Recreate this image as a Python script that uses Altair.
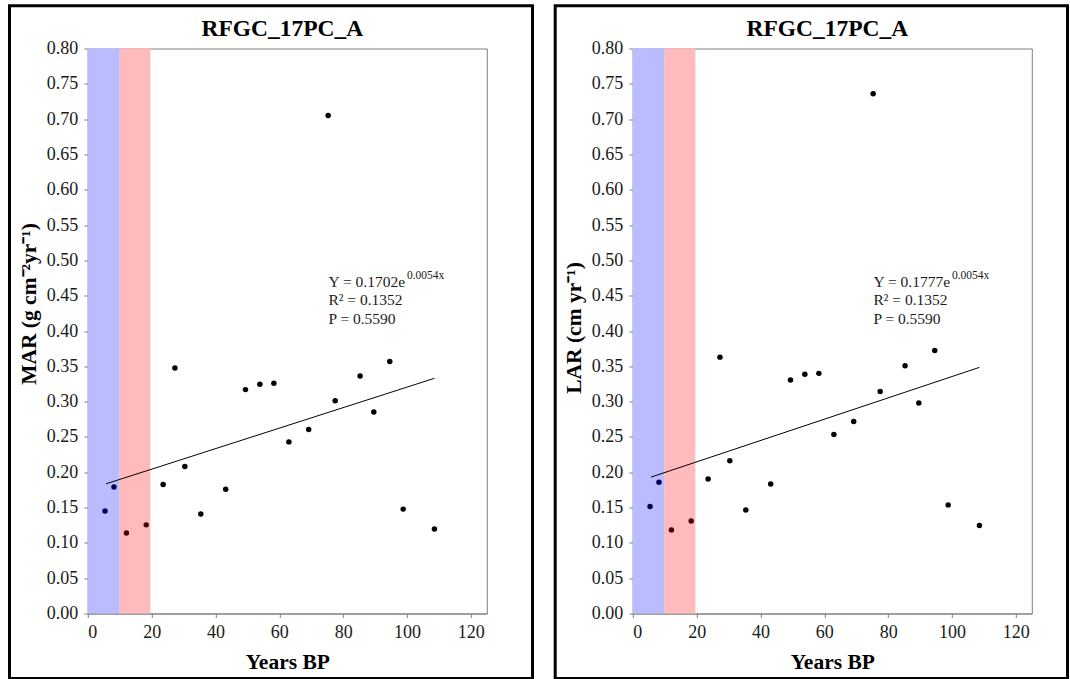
import altair as alt
import pandas as pd

# ---------------- data ----------------
years = [5.4, 8.2, 12.1, 18.3, 23.6, 27.3, 30.4, 35.4, 43.2, 49.4, 53.9,
         58.3, 63.0, 69.2, 75.3, 77.5, 85.3, 89.6, 94.6, 98.8, 108.6]
mar = [0.145, 0.179, 0.114, 0.1255, 0.1826, 0.3475, 0.208, 0.141, 0.176, 0.317, 0.3246,
       0.326, 0.243, 0.2604, 0.705, 0.3012, 0.3363, 0.2852, 0.3569, 0.1478, 0.1197]
lar = [0.1514, 0.186, 0.1184, 0.1311, 0.1906, 0.363, 0.2164, 0.1467, 0.1835, 0.3307, 0.3386,
       0.340, 0.2534, 0.2717, 0.736, 0.3143, 0.3508, 0.2979, 0.3724, 0.1538, 0.1245]
period = ["blue", "blue", "red", "red"] + ["none"] * 17

band_start = [0, 10]
band_end = [10, 19.6]
band_color = ["#bbbbff", "#ffbbbb"]

fit_x = [5.7, 108.6]
fit_mar = [0.1836, 0.333]
fit_lar = [0.1931, 0.3485]

x_ticks = [0, 20, 40, 60, 80, 100, 120]
y_ticks = [0.00, 0.05, 0.10, 0.15, 0.20, 0.25, 0.30, 0.35, 0.40,
           0.45, 0.50, 0.55, 0.60, 0.65, 0.70, 0.75, 0.80]

title_text = "RFGC_17PC_A"
mar_title = "MAR (g cm\u207b\u00b2yr\u207b\u00b9)"
lar_title = "LAR (cm yr\u207b\u00b9)"
mar_eq = ["Y = 0.1702e", "R\u00b2 = 0.1352", "P = 0.5590"]
lar_eq = ["Y = 0.1777e", "R\u00b2 = 0.1352", "P = 0.5590"]
eq_sup = "0.0054x"

# ---------------- layout ----------------
W, H = 399, 565
FONT = "Liberation Serif"
GRAY = "#808080"

xscale = alt.Scale(domain=[0, 125], nice=False, zero=False)
yscale = alt.Scale(domain=[0, 0.8], nice=False)
xaxis = alt.Axis(values=x_ticks, title="Years BP", titleY=49, titleBaseline="middle",
                 labelFont=FONT, titleFont=FONT)


def yaxis(t, ty):
    return alt.Axis(values=y_ticks, format=".2f", title=t,
                    labelFont=FONT, titleFont=FONT,
                    titleAngle=270, titleX=-58.5, titleY=ty,
                    titleAlign="center", titleBaseline="middle")


def panel(values, fit_y, ytitle, ty, eq, frame_x, frame_x2):
    pts = pd.DataFrame({"Years": years, "Value": values, "period": period})
    bands = pd.DataFrame({"x0": band_start, "x1": band_end, "c": band_color})
    fit = pd.DataFrame({"Years": fit_x, "Value": fit_y})
    eq_df = pd.DataFrame({"t": eq, "x": [75.4] * 3, "y": [0.4630, 0.4365, 0.4105]})
    sup_df = pd.DataFrame({"t": [eq_sup], "x": [100.0], "y": [0.4736]})
    ya = yaxis(ytitle, ty)

    X = lambda f: alt.X(f, scale=xscale, axis=xaxis)
    Y = lambda f: alt.Y(f, scale=yscale, axis=ya)

    band_layer = alt.Chart(bands).mark_rect().encode(
        x=X("x0:Q"), x2="x1:Q",
        y=alt.Y(datum=0.8, scale=yscale, axis=ya), y2=alt.datum(0.0),
        color=alt.Color("c:N", scale=None),
    )
    line_layer = alt.Chart(fit).mark_line(color="black", strokeWidth=1).encode(
        x=X("Years:Q"), y=Y("Value:Q"),
    )
    pt_layer = alt.Chart(pts).mark_circle(size=30, opacity=1).encode(
        x=X("Years:Q"), y=Y("Value:Q"),
        color=alt.Color("period:N", legend=None,
                        scale=alt.Scale(domain=["blue", "red", "none"],
                                        range=["#00005a", "#4a0000", "black"])),
    )
    eq_layer = alt.Chart(eq_df).mark_text(
        align="left", baseline="alphabetic", font=FONT, fontSize=15.5, color="#1a1a1a"
    ).encode(x=X("x:Q"), y=Y("y:Q"), text="t:N")
    sup_layer = alt.Chart(sup_df).mark_text(
        align="left", baseline="alphabetic", font=FONT, fontSize=11.5, color="#1a1a1a"
    ).encode(x=X("x:Q"), y=Y("y:Q"), text="t:N")
    title_layer = alt.Chart(pd.DataFrame({"t": [title_text]})).mark_text(
        align="center", baseline="alphabetic", font=FONT, fontSize=23.5,
        fontWeight="bold", color="black", clip=False
    ).encode(x=alt.value(W / 2 - 5), y=alt.value(-13), text="t:N")
    frame = alt.Chart(pd.DataFrame({"k": [0]})).mark_rect(
        fillOpacity=0, stroke="black", strokeWidth=3, clip=False
    ).encode(x=alt.value(frame_x), x2=alt.value(frame_x2),
             y=alt.value(-42.7), y2=alt.value(630))

    return alt.layer(band_layer, line_layer, pt_layer, eq_layer, sup_layer,
                     title_layer, frame).properties(width=W, height=H)


left = panel(mar, fit_mar, mar_title, 255, mar_eq, -78.3, 444.7)
right = panel(lar, fit_lar, lar_title, 279, lar_eq, -77.6, 434.7)

chart = alt.hconcat(left, right, spacing=146, bounds="flush").properties(
    padding={"left": 6.8, "top": 3.5, "right": 0, "bottom": 0}
).configure(
    font=FONT,
    style={"guide-label": {"font": FONT}, "guide-title": {"font": FONT}},
).configure_view(
    stroke=GRAY, strokeWidth=1
).configure_axis(
    grid=False, labelFont=FONT, labelFontSize=18, labelColor="#1a1a1a",
    labelOverlap=False, tickSize=4, tickColor=GRAY, domainColor=GRAY,
    titleFont=FONT, titleFontSize=21.5, titleFontWeight="bold", titleColor="black",
).configure_axisX(labelPadding=6).configure_axisY(labelPadding=6).resolve_scale(
    color="independent"
)

chart.save("out.html", embed_options={"renderer": "svg", "actions": False})
